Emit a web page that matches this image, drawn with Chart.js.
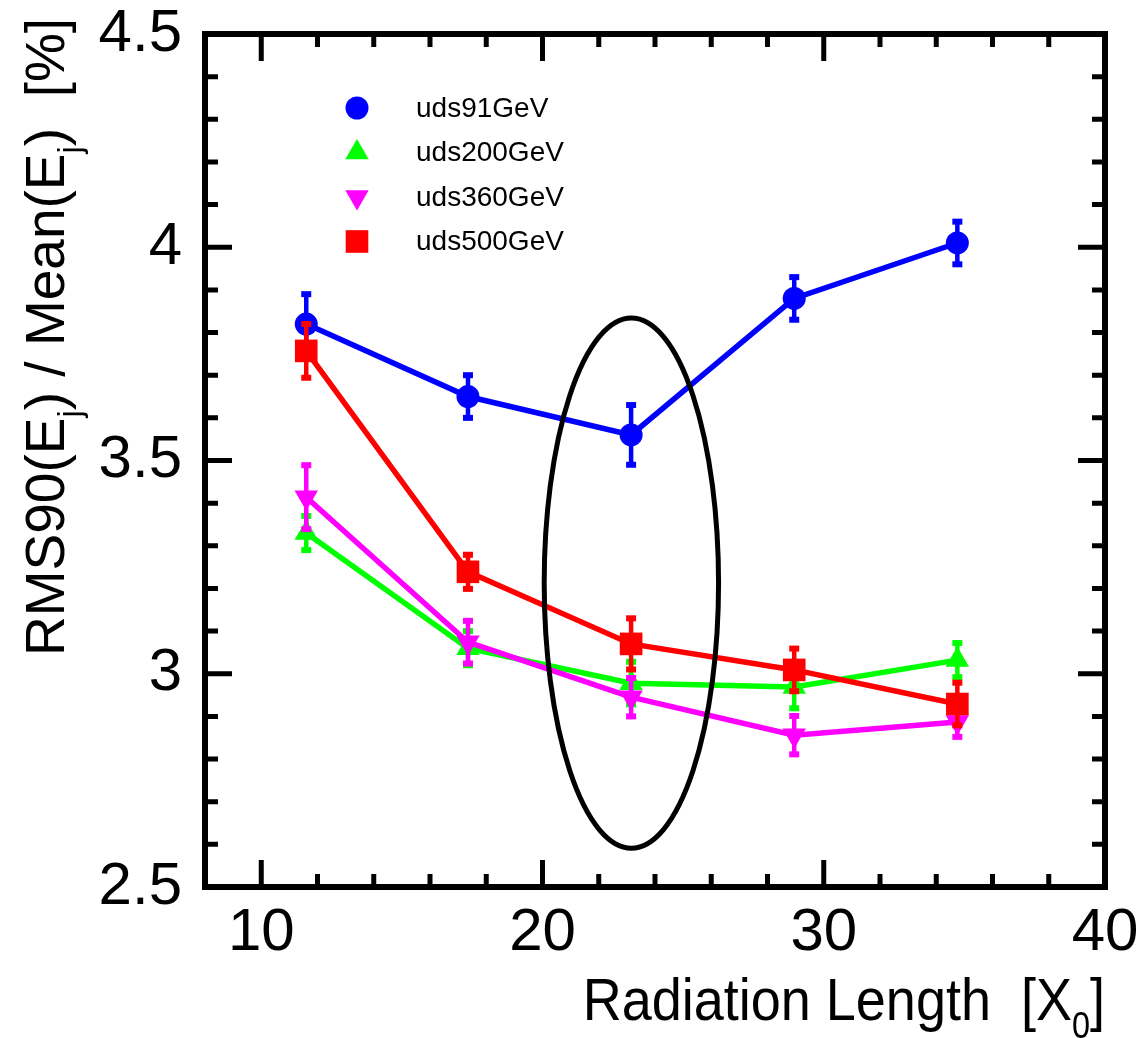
<!DOCTYPE html>
<html>
<head>
<meta charset="utf-8">
<script src="https://cdn.jsdelivr.net/npm/chart.js@4.4.1/dist/chart.umd.min.js"></script>
<style>
  html, body { margin: 0; padding: 0; background: #fff; }
  canvas { display: block; }
</style>
</head>
<body>
<canvas id="plot" width="1145" height="1038"></canvas>
<script>
// values
const radiationLength = [11.6, 17.35, 23.15, 28.95, 34.75]

const uds91 = [3.82, 3.65, 3.56, 3.88, 4.01]
const uds91Err = [0.07, 0.05, 0.07, 0.05, 0.05]
const uds200 = [3.33, 3.06, 2.978, 2.969, 3.032]
const uds200Err = [0.04, 0.04, 0.05, 0.05, 0.04]
const uds360 = [3.414, 3.074, 2.945, 2.856, 2.887]
const uds360Err = [0.075, 0.05, 0.045, 0.045, 0.035]
const uds500 = [3.757, 3.239, 3.07, 3.009, 2.929]
const uds500Err = [0.063, 0.04, 0.06, 0.05, 0.05]

const seriesNames = ['uds91GeV', 'uds200GeV', 'uds360GeV', 'uds500GeV']
const xTickLabels = [10, 20, 30, 40]
const yTickLabels = [2.5, 3, 3.5, 4, 4.5]

// the highlighted region (in axis units)
const ellipse = { x: 23.16, y: 3.2125, rx: 3.1, ry: 0.6215 }

const FONT = '"Liberation Sans", Arial, Helvetica, sans-serif'

const series = [
    { name: seriesNames[0], values: uds91, errors: uds91Err, color: '#0000ff', style: 'circle', radius: 11.5, rotation: 0, order: 4 },
    { name: seriesNames[1], values: uds200, errors: uds200Err, color: '#00ff00', style: 'triangle', radius: 13.5, rotation: 0, order: 3 },
    { name: seriesNames[2], values: uds360, errors: uds360Err, color: '#ff00ff', style: 'triangle', radius: 13.5, rotation: 180, order: 2 },
    { name: seriesNames[3], values: uds500, errors: uds500Err, color: '#ff0000', style: 'rect', radius: 16, rotation: 0, order: 1 }
]

function drawMarker(ctx, s, x, y) {
    ctx.fillStyle = s.color
    ctx.strokeStyle = s.color
    if (Chart.helpers && Chart.helpers.drawPoint) {
        Chart.helpers.drawPoint(ctx, { pointStyle: s.style, rotation: s.rotation, radius: s.radius, borderWidth: 0 }, x, y)
        return
    }
    ctx.beginPath()
    ctx.arc(x, y, s.radius, 0, Math.PI * 2)
    ctx.fill()
}

const errorBars = {
    id: 'errorBars',
    beforeDatasetDraw(chart, args) {
        const ds = chart.data.datasets[args.index]
        const ctx = chart.ctx
        const y = chart.scales.y
        ctx.save()
        ctx.strokeStyle = ds.borderColor
        ctx.fillStyle = ds.borderColor
        ctx.lineWidth = 4.5
        args.meta.data.forEach((pt, i) => {
            const v = ds.data[i].y
            const e = ds.errors[i]
            const top = y.getPixelForValue(v + e)
            const bottom = y.getPixelForValue(v - e)
            ctx.beginPath()
            ctx.moveTo(pt.x, top)
            ctx.lineTo(pt.x, bottom)
            ctx.stroke()
            ctx.fillRect(pt.x - 5, top - 3, 10, 6)
            ctx.fillRect(pt.x - 5, bottom - 3, 10, 6)
        })
        ctx.restore()
    }
}

const highlight = {
    id: 'highlight',
    afterDatasetsDraw(chart) {
        const { ctx, scales: { x, y } } = chart
        const cx = x.getPixelForValue(ellipse.x)
        const cy = y.getPixelForValue(ellipse.y)
        const rx = x.getPixelForValue(ellipse.x + ellipse.rx) - cx
        const ry = cy - y.getPixelForValue(ellipse.y + ellipse.ry)
        ctx.save()
        ctx.strokeStyle = '#000'
        ctx.lineWidth = 5
        ctx.beginPath()
        ctx.ellipse(cx, cy, rx, ry, 0, 0, Math.PI * 2)
        ctx.stroke()
        ctx.restore()
    }
}

const frame = {
    id: 'frame',
    afterDraw(chart) {
        const { ctx, chartArea: a, scales: { x, y } } = chart
        ctx.save()
        ctx.strokeStyle = '#000'
        ctx.lineWidth = 5
        ctx.beginPath()
        for (let v = x.min + 2; v < x.max; v += 2) {
            const px = x.getPixelForValue(v)
            const len = v % 10 === 0 ? 27 : 13
            ctx.moveTo(px, a.bottom); ctx.lineTo(px, a.bottom - len)
            ctx.moveTo(px, a.top); ctx.lineTo(px, a.top + len)
        }
        for (let k = Math.round(y.min * 10) + 1; k < Math.round(y.max * 10); k++) {
            const py = y.getPixelForValue(k / 10)
            const len = k % 5 === 0 ? 27 : 13
            ctx.moveTo(a.left, py); ctx.lineTo(a.left + len, py)
            ctx.moveTo(a.right, py); ctx.lineTo(a.right - len, py)
        }
        ctx.stroke()
        ctx.lineWidth = 6
        ctx.strokeRect(a.left, a.top, a.right - a.left, a.bottom - a.top)
        ctx.restore()
    }
}

const legendBox = {
    id: 'legendBox',
    afterDraw(chart) {
        const ctx = chart.ctx
        ctx.save()
        series.forEach((s, i) => {
            const yy = 108 + i * 44.5
            drawMarker(ctx, s, 357, yy)
            ctx.fillStyle = '#000'
            ctx.font = '28px ' + FONT
            ctx.textAlign = 'left'
            ctx.textBaseline = 'middle'
            ctx.fillText(s.name, 416, yy + 1)
        })
        ctx.restore()
    }
}

// text with subscripts, drawn left to right from (0, 0) on the baseline
function richText(ctx, parts, size, sx) {
    let w = 0
    parts.forEach(p => {
        ctx.font = (p.sub ? size * 0.6 : size) + 'px ' + FONT
        p.w = ctx.measureText(p.t).width
        w += p.w
    })
    return {
        width: w * sx,
        draw() {
            ctx.save()
            ctx.scale(sx, 1)
            let pos = 0
            parts.forEach(p => {
                ctx.font = (p.sub ? size * 0.6 : size) + 'px ' + FONT
                ctx.fillText(p.t, pos, p.sub ? size * 0.3 : 0)
                pos += p.w
            })
            ctx.restore()
        }
    }
}

const axisTitles = {
    id: 'axisTitles',
    afterDraw(chart) {
        const ctx = chart.ctx
        ctx.save()
        ctx.fillStyle = '#000'
        ctx.textBaseline = 'alphabetic'
        ctx.textAlign = 'left'

        const xt = richText(ctx, [{ t: 'Radiation Length  [X' }, { t: '0', sub: true }, { t: ']' }], 60, 0.9)
        ctx.save()
        ctx.translate(chart.chartArea.right - xt.width, 1020)
        xt.draw()
        ctx.restore()

        const yt = richText(ctx, [{ t: 'RMS90(E' }, { t: 'j', sub: true }, { t: ') / Mean(E' }, { t: 'j', sub: true }, { t: ')  [%]' }], 55, 1)
        ctx.save()
        ctx.translate(64, 656)
        ctx.rotate(-Math.PI / 2)
        yt.draw()
        ctx.restore()

        ctx.restore()
    }
}

new Chart(document.getElementById('plot'), {
    type: 'scatter',
    data: {
        datasets: series.map(s => ({
            label: s.name,
            data: radiationLength.map((x, i) => ({ x: x, y: s.values[i] })),
            errors: s.errors,
            showLine: true,
            tension: 0,
            borderColor: s.color,
            backgroundColor: s.color,
            borderWidth: 5.5,
            pointStyle: s.style,
            pointRadius: s.radius,
            pointRotation: s.rotation,
            pointBorderWidth: 0,
            order: s.order
        }))
    },
    options: {
        responsive: false,
        animation: false,
        devicePixelRatio: 1,
        layout: { padding: { top: 34, right: 40, left: 0, bottom: 0 } },
        plugins: {
            legend: { display: false },
            tooltip: { enabled: false }
        },
        scales: {
            x: {
                type: 'linear',
                min: 8,
                max: 40,
                afterBuildTicks: scale => { scale.ticks = xTickLabels.map(v => ({ value: v })) },
                afterFit: scale => { scale.height = 151; scale.paddingLeft = 0; scale.paddingRight = 0 },
                grid: { display: false, drawTicks: false },
                border: { display: false },
                ticks: { color: '#000', font: { size: 60, family: FONT }, padding: 10, maxRotation: 0, autoSkip: false, callback: v => String(v) }
            },
            y: {
                type: 'linear',
                min: 2.5,
                max: 4.5,
                afterBuildTicks: scale => { scale.ticks = yTickLabels.map(v => ({ value: v })) },
                afterFit: scale => { scale.width = 205; scale.paddingTop = 0; scale.paddingBottom = 0 },
                grid: { display: false, drawTicks: false },
                border: { display: false },
                ticks: { color: '#000', font: { size: 60, family: FONT }, padding: 23, autoSkip: false, callback: v => String(v) }
            }
        }
    },
    plugins: [errorBars, highlight, frame, legendBox, axisTitles]
})
</script>
</body>
</html>
